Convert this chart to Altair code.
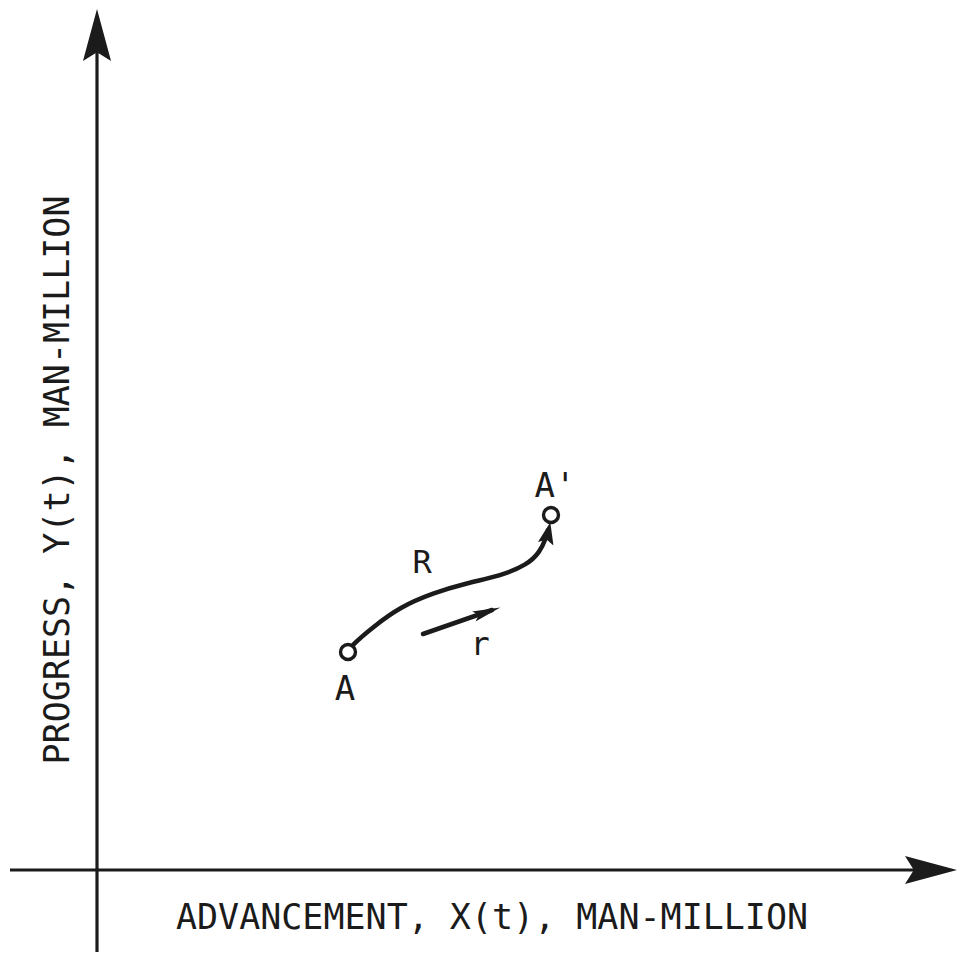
import altair as alt
import pandas as pd

# Diagram units: origin at the crossing of the two axes, x to the right, y upward.
# Axes
axis_rules_x = [0, -87]
axis_rules_x2 = [0, 830]
axis_rules_y = [-82, 0]
axis_rules_y2 = [830, 0]

# Axis arrowheads (center positions, rotation)
head_x = [0, 834]
head_y = [835, 0]
head_angle = [0, 90]

# Path R from A to A'
curve_x = [251, 255, 276, 303, 336, 370, 403, 430, 443, 449, 451]
curve_y = [218, 225, 243, 263, 277, 287, 294, 305, 318, 332, 340]

# Small arrow r
r_x = [326, 395]
r_y = [236, 260]

# Points A and A'
pt_names = ["A", "A'"]
pt_x = [251, 454]
pt_y = [218, 355]

# Labels
label_text = ["A", "A'", "R", "r"]
label_x = [248, 458, 325, 383]
label_y = [180, 383, 307, 225]
label_size = [34, 34, 32, 32]

X_TITLE = "ADVANCEMENT, X(t), MAN-MILLION"
Y_TITLE = "PROGRESS, Y(t), MAN-MILLION"

INK = "#1b1b1b"
FONT = "DejaVu Sans Mono"

xs = alt.Scale(domain=[-89, 861], nice=False, zero=False)
ys = alt.Scale(domain=[-82, 862], nice=False, zero=False)


def X(f="x"):
    return alt.X(f"{f}:Q", scale=xs, axis=None)


def Y(f="y"):
    return alt.Y(f"{f}:Q", scale=ys, axis=None)


rules_df = pd.DataFrame({"x": axis_rules_x, "x2": axis_rules_x2,
                         "y": axis_rules_y, "y2": axis_rules_y2})
axes = alt.Chart(rules_df).mark_rule(color=INK, strokeWidth=3.2).encode(
    x=X(), x2="x2:Q", y=Y(), y2="y2:Q")

BIG_HEAD = "M0,-1L0.54,1L0,0.66L-0.54,1Z"
heads_df = pd.DataFrame({"x": head_x, "y": head_y, "angle": head_angle})
heads = alt.Chart(heads_df).mark_point(
    shape=BIG_HEAD, size=2704, filled=True, fill=INK, opacity=1, strokeWidth=0
).encode(x=X(), y=Y(), angle=alt.Angle("angle:Q", scale=None))

curve_df = pd.DataFrame({"x": curve_x, "y": curve_y, "o": range(len(curve_x))})
curve = alt.Chart(curve_df).mark_line(
    color=INK, strokeWidth=4.5, interpolate="basis", strokeCap="round"
).encode(x=X(), y=Y(), order="o:Q")

curve_head_df = pd.DataFrame({"x": [451], "y": [337], "angle": [12]})
curve_head = alt.Chart(curve_head_df).mark_point(
    shape="M0,-1L0.72,1L0,0.6L-0.72,1Z", size=484, filled=True, fill=INK,
    opacity=1, strokeWidth=0
).encode(x=X(), y=Y(), angle=alt.Angle("angle:Q", scale=None))

r_df = pd.DataFrame({"x": r_x, "y": r_y, "o": [0, 1]})
r_line = alt.Chart(r_df).mark_line(color=INK, strokeWidth=4.5, strokeCap="round").encode(
    x=X(), y=Y(), order="o:Q")

r_head_df = pd.DataFrame({"x": [390], "y": [258], "angle": [71]})
r_head = alt.Chart(r_head_df).mark_point(
    shape="M0,-1L0.38,1L0,0.6L-0.38,1Z", size=784, filled=True, fill=INK,
    opacity=1, strokeWidth=0
).encode(x=X(), y=Y(), angle=alt.Angle("angle:Q", scale=None))

pts_df = pd.DataFrame({"name": pt_names, "x": pt_x, "y": pt_y})
pts = alt.Chart(pts_df).mark_point(
    shape="circle", size=225, filled=True, fill="white", stroke=INK,
    strokeWidth=3.4, opacity=1
).encode(x=X(), y=Y())

labels_df = pd.DataFrame({"t": label_text, "x": label_x, "y": label_y, "s": label_size})
labels = alt.Chart(labels_df).mark_text(
    font=FONT, color=INK, align="center", baseline="middle"
).encode(x=X(), y=Y(), text="t:N", size=alt.Size("s:Q", scale=None))

xt_df = pd.DataFrame({"t": [X_TITLE], "x": [395], "y": [-48]})
x_title = alt.Chart(xt_df).mark_text(
    font=FONT, fontSize=35, color=INK, align="center", baseline="middle"
).encode(x=X(), y=Y(), text="t:N")

yt_df = pd.DataFrame({"t": [Y_TITLE], "x": [-39], "y": [390]})
y_title = alt.Chart(yt_df).mark_text(
    font=FONT, fontSize=35, color=INK, align="center", baseline="middle", angle=270
).encode(x=X(), y=Y(), text="t:N")

chart = alt.layer(
    axes, heads, curve, curve_head, r_line, r_head, pts, labels, x_title, y_title
).properties(
    width=950, height=944, padding=0,
    autosize=alt.AutoSizeParams(type="none"),
    background="white",
).configure_view(stroke=None)

chart.save("out.html", embed_options={"renderer": "svg", "actions": False})
